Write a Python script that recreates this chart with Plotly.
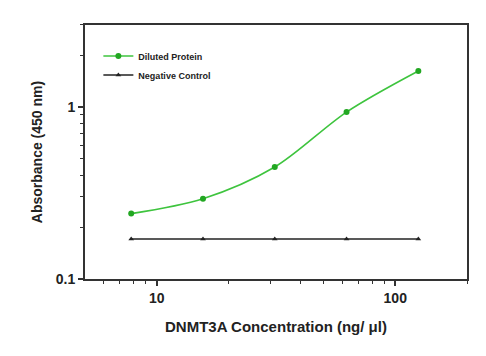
import plotly.graph_objects as go

conc = [7.8125, 15.625, 31.25, 62.5, 125]
protein = [0.24, 0.293, 0.448, 0.935, 1.62]
control = [0.171, 0.171, 0.171, 0.171, 0.171]

x_major = [10, 100]
x_minor = [6, 7, 8, 9, 20, 30, 40, 50, 60, 70, 80, 90, 200]
y_major = [0.1, 1]
y_minor = [0.2, 0.3, 0.4, 0.5, 0.6, 0.7, 0.8, 0.9, 2, 3]

font = "Liberation Sans, Arial, sans-serif"

fig = go.Figure()
fig.add_trace(go.Scatter(
    x=conc, y=protein, mode="lines+markers", name="Diluted Protein",
    line=dict(color="#3ec43e", width=1.6, shape="spline", smoothing=0.9),
    marker=dict(color="#22a722", size=6, symbol="circle"),
))
fig.add_trace(go.Scatter(
    x=conc, y=control, mode="lines+markers", name="Negative Control",
    line=dict(color="#222222", width=1.5),
    marker=dict(color="#222222", size=5, symbol="triangle-up"),
))

axis_common = dict(
    type="log", showgrid=False, zeroline=False, automargin=False,
    showline=True, linecolor="#333333", linewidth=2, mirror=True,
    ticks="outside", ticklen=5, tickwidth=1.5, tickcolor="#333333",
    tickfont=dict(family=font, size=14, color="#222222", weight="bold"),
)

fig.update_xaxes(
    **axis_common,
    range=[0.699, 2.301],
    tickvals=x_major, ticktext=[str(v) for v in x_major],
    minor=dict(tickvals=x_minor, ticks="outside", ticklen=3, tickwidth=1,
               tickcolor="#333333", showgrid=False),
    title=dict(text="DNMT3A Concentration (ng/ μl)", standoff=17,
               font=dict(family=font, size=15, color="#222222", weight="bold")),
)
fig.update_yaxes(
    **axis_common,
    range=[-1, 0.477],
    tickvals=y_major, ticktext=[str(v) for v in y_major],
    minor=dict(tickvals=y_minor, ticks="outside", ticklen=3, tickwidth=1,
               tickcolor="#333333", showgrid=False),
    title=dict(text="Absorbance (450 nm)", standoff=10,
               font=dict(family=font, size=14, color="#222222", weight="bold")),
)

fig.update_layout(
    width=478, height=348,
    margin=dict(l=77, r=19, t=17, b=77),
    plot_bgcolor="white", paper_bgcolor="white",
    showlegend=True,
    legend=dict(x=0.035, y=0.935, xanchor="left", yanchor="top",
                bgcolor="rgba(0,0,0,0)", tracegroupgap=0, itemwidth=30,
                font=dict(family=font, size=9, color="#222222", weight="bold")),
)

fig.write_html("out.html")
